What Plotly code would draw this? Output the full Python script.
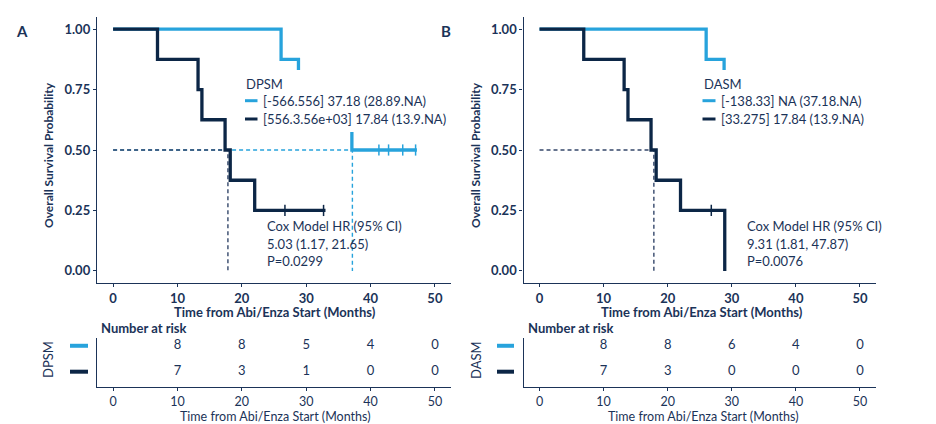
import plotly.graph_objects as go

W, H = 936, 424
NAVY = "#1b3358"
LIGHT = "#27a3dc"
DARK = "#0c2646"
FONT = "Lato"

# ---------------- data ----------------
# Panel A (DPSM)
a_light_t = [0, 26.1, 28.8, 37.1, 47.2]
a_light_s = [1.0, 0.875, 0.583, 0.5, 0.5]
a_light_cens_t = [41.3, 42.8, 45.0, 47.0]
a_light_cens_s = [0.5, 0.5, 0.5, 0.5]
a_dark_t = [0, 6.9, 13.2, 13.8, 17.4, 18.2, 22.0, 33.0]
a_dark_s = [1.0, 0.875, 0.75, 0.625, 0.5, 0.375, 0.25, 0.25]
a_dark_cens_t = [26.7, 32.7]
a_dark_cens_s = [0.25, 0.25]
a_median_light = 37.18
a_median_dark = 17.84

# Panel B (DASM)
b_light_t = [0, 26.0, 28.8, 47.0]
b_light_s = [1.0, 0.875, 0.75, 0.75]
b_light_cens_t = [33.0, 37.0, 41.3, 42.8, 45.0, 47.0]
b_light_cens_s = [0.75] * 6
b_dark_t = [0, 6.9, 13.2, 13.8, 17.4, 18.2, 22.0, 28.9]
b_dark_s = [1.0, 0.875, 0.75, 0.625, 0.5, 0.375, 0.25, 0.0]
b_dark_cens_t = [26.8]
b_dark_cens_s = [0.25]
b_median_dark = 17.84

# risk tables
risk_times = [10, 20, 30, 40, 50]
a_risk_light = [8, 8, 5, 4, 0]
a_risk_dark = [7, 3, 1, 0, 0]
b_risk_light = [8, 8, 6, 4, 0]
b_risk_dark = [7, 3, 0, 0, 0]

x_ticks = [0, 10, 20, 30, 40, 50]
y_ticks = [0, 0.25, 0.5, 0.75, 1.0]
y_ticklabels = ["0.00", "0.25", "0.50", "0.75", "1.00"]

a_legend_title = "DPSM"
a_legend_labels = ["[-566.556] 37.18 (28.89.NA)", "[556.3.56e+03] 17.84 (13.9.NA)"]
b_legend_title = "DASM"
b_legend_labels = ["[-138.33] NA (37.18.NA)", "[33.275] 17.84 (13.9.NA)"]
a_cox = ["Cox Model HR (95% CI)", "5.03 (1.17, 21.65)", "P=0.0299"]
b_cox = ["Cox Model HR (95% CI)", "9.31 (1.81, 47.87)", "P=0.0076"]
x_title = "Time from Abi/Enza Start (Months)"
y_title = "Overall Survival Probability"


def px(x):
    return x / W


def py(y):
    return 1 - y / H


fig = go.Figure()

# -------- main curves --------
def add_panel(xa, ya, light_t, light_s, lct, lcs, dark_t, dark_s, dct, dcs, medians):
    # median lines
    for med, col in medians:
        fig.add_trace(go.Scatter(x=[0, med, med], y=[0.5, 0.5, 0], mode="lines",
                                 line=dict(color=col, width=1.4, dash="4px,3px"),
                                 xaxis=xa, yaxis=ya, showlegend=False, hoverinfo="skip"))
    fig.add_trace(go.Scatter(x=light_t, y=light_s, mode="lines", line=dict(color=LIGHT, width=3.3, shape="hv"),
                             xaxis=xa, yaxis=ya, showlegend=False))
    fig.add_trace(go.Scatter(x=lct, y=lcs, mode="markers",
                             marker=dict(symbol="line-ns", size=8, line=dict(color=LIGHT, width=1.5)),
                             xaxis=xa, yaxis=ya, showlegend=False))
    fig.add_trace(go.Scatter(x=dark_t, y=dark_s, mode="lines", line=dict(color=DARK, width=3.3, shape="hv"),
                             xaxis=xa, yaxis=ya, showlegend=False))
    fig.add_trace(go.Scatter(x=dct, y=dcs, mode="markers",
                             marker=dict(symbol="line-ns", size=8, line=dict(color=DARK, width=1.5)),
                             xaxis=xa, yaxis=ya, showlegend=False))


add_panel("x", "y", a_light_t, a_light_s, a_light_cens_t, a_light_cens_s,
          a_dark_t, a_dark_s, a_dark_cens_t, a_dark_cens_s,
          [(a_median_light, LIGHT), (a_median_dark, "#34476a")])
add_panel("x2", "y2", b_light_t, b_light_s, b_light_cens_t, b_light_cens_s,
          b_dark_t, b_dark_s, b_dark_cens_t, b_dark_cens_s,
          [(b_median_dark, "#34476a")])

# -------- risk tables --------
for xa, ya, rl, rd in [("x3", "y3", a_risk_light, a_risk_dark), ("x4", "y4", b_risk_light, b_risk_dark)]:
    fig.add_trace(go.Scatter(x=risk_times, y=[2] * len(risk_times), mode="text",
                             text=[str(v) for v in rl], textfont=dict(family=FONT, size=13, color=NAVY),
                             xaxis=xa, yaxis=ya, showlegend=False))
    fig.add_trace(go.Scatter(x=risk_times, y=[1] * len(risk_times), mode="text",
                             text=[str(v) for v in rd], textfont=dict(family=FONT, size=13, color=NAVY),
                             xaxis=xa, yaxis=ya, showlegend=False))

axis_common = dict(showline=True, linecolor=NAVY, linewidth=1.4, ticks="outside", ticklen=3,
                   tickcolor=NAVY, showgrid=False, zeroline=False)
main_x = dict(axis_common, range=[-2.5, 52.5], tickvals=x_ticks,
              tickfont=dict(family=FONT, size=13, color=NAVY, weight="bold"))
main_y = dict(axis_common, range=[-0.05, 1.05], tickvals=y_ticks, ticktext=y_ticklabels,
              tickfont=dict(family=FONT, size=13, color=NAVY, weight="bold"),
              domain=[py(283), py(17)])
risk_x = dict(axis_common, range=[-2.5, 52.5], tickvals=x_ticks,
              tickfont=dict(family=FONT, size=12.5, color=NAVY))
risk_y = dict(axis_common, range=[0.41, 2.3], showticklabels=False, ticks="",
              domain=[py(387), py(338)])

fig.update_layout(
    width=W, height=H, margin=dict(l=0, r=0, t=0, b=0),
    paper_bgcolor="white", plot_bgcolor="white",
    xaxis=dict(main_x, domain=[px(97), px(451)], anchor="y"),
    yaxis=dict(main_y, anchor="x"),
    xaxis2=dict(main_x, domain=[px(523.5), px(876)], anchor="y2"),
    yaxis2=dict(main_y, anchor="x2"),
    xaxis3=dict(risk_x, domain=[px(97), px(451)], anchor="y3"),
    yaxis3=dict(risk_y, anchor="x3"),
    xaxis4=dict(risk_x, domain=[px(523.5), px(876)], anchor="y4"),
    yaxis4=dict(risk_y, anchor="x4"),
)

shapes = []
ann = []


def text(x, y, s, size=13, bold=False, xanchor="left", angle=0, color=NAVY, yanchor="middle"):
    ann.append(dict(x=px(x), y=py(y), xref="paper", yref="paper", text=s, showarrow=False,
                    xanchor=xanchor, yanchor=yanchor, textangle=angle, borderpad=0,
                    font=dict(family=FONT, size=size, color=color, weight="bold" if bold else "normal")))


# legend boxes (white background, drawn above curves)
for x0, x1, y0, y1 in [(240, 455, 70, 132), (697, 872, 70, 126)]:
    shapes.append(dict(type="rect", xref="paper", yref="paper", x0=px(x0), x1=px(x1), y0=py(y1), y1=py(y0),
                       fillcolor="white", line=dict(width=0), layer="above"))

# legend A
text(245, 83.5, a_legend_title, 13)
for yy, lab, col in [(100.7, a_legend_labels[0], LIGHT), (119, a_legend_labels[1], DARK)]:
    shapes.append(dict(type="line", xref="paper", yref="paper", x0=px(245), x1=px(257.5), y0=py(yy), y1=py(yy),
                       line=dict(color=col, width=3), layer="above"))
    text(261.5, yy, lab, 13)
# legend B
text(702.5, 83.5, b_legend_title, 13)
for yy, lab, col in [(100.7, b_legend_labels[0], LIGHT), (119, b_legend_labels[1], DARK)]:
    shapes.append(dict(type="line", xref="paper", yref="paper", x0=px(702.5), x1=px(715.5), y0=py(yy), y1=py(yy),
                       line=dict(color=col, width=3), layer="above"))
    text(719.5, yy, lab, 13)

# Cox texts
for i, s in enumerate(a_cox):
    text(265.5, 226 + i * 17.5, s, 13)
for i, s in enumerate(b_cox):
    text(746, 226 + i * 17.5, s, 13)

# panel letters
text(21.5, 31, "A", 15, bold=True, xanchor="center")
text(445.5, 31, "B", 15, bold=True, xanchor="center")

# axis titles
text(275, 312, x_title, 13, bold=True, xanchor="center")
text(702, 312, x_title, 13, bold=True, xanchor="center")
text(275.5, 416.5, x_title, 12.5, xanchor="center")
text(703, 416.5, x_title, 12.5, xanchor="center")
text(48, 155, y_title, 12, bold=True, xanchor="center", angle=-90)
text(475, 155, y_title, 12, bold=True, xanchor="center", angle=-90)

# risk table headers / labels
text(99.5, 327.5, "Number at risk", 13, bold=True)
text(526.5, 327.5, "Number at risk", 13, bold=True)
text(48, 360, "DPSM", 13, xanchor="center", angle=-90)
text(476, 360, "DASM", 13, xanchor="center", angle=-90)

# risk table group keys (y tied to row values)
for xa0, xa1, yref in [(70, 88, "y3"), (497, 514, "y4")]:
    for val, col in [(2, LIGHT), (1, DARK)]:
        shapes.append(dict(type="line", xref="paper", yref=yref, x0=px(xa0), x1=px(xa1), y0=val, y1=val,
                           line=dict(color=col, width=4)))

fig.update_layout(shapes=shapes, annotations=ann)
fig.write_html("out.html")
